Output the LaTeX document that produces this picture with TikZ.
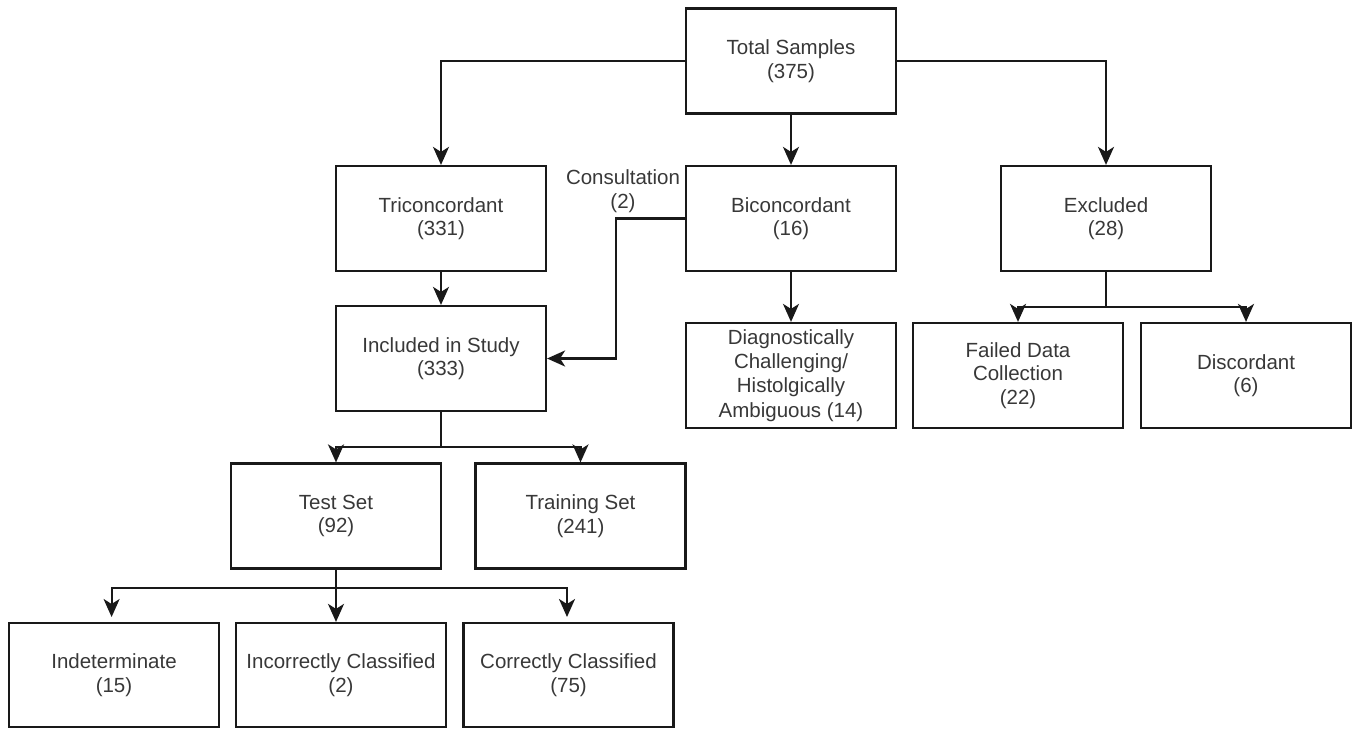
\documentclass[tikz,border=0pt]{standalone}
\usepackage{fontspec}
\setmainfont{Liberation Sans}
\usetikzlibrary{arrows.meta}
\begin{document}
\begin{tikzpicture}[x=1pt,y=-1pt,
  txt/.style={align=center, inner sep=0pt, text=black!78, font=\fontsize{20.5}{23.5}\selectfont},
  box/.style={txt, draw=black!90, line width=2.2pt, minimum width=210pt, minimum height=105pt},
  conn/.style={draw=black!90, line width=2.2pt, -{Stealth[length=18pt,width=16pt,inset=5pt]}},
  plainline/.style={draw=black!90, line width=2.2pt}]
\useasboundingbox (0,0) rectangle (1359,728);
\node[box] (total) at (791,61) {Total Samples\\(375)};
\node[box] (tri) at (441,218.5) {Triconcordant\\(331)};
\node[box] (bic) at (791,218.5) {Biconcordant\\(16)};
\node[box] (exc) at (1106,218.5) {Excluded\\(28)};
\node[box] (inc) at (441,358.5) {Included in Study\\(333)};
\node[box, font=\fontsize{20.5}{24.3}\selectfont] (diag) at (791,375.5) {Diagnostically\\Challenging/\\Histolgically\\Ambiguous (14)};
\node[box] (failed) at (1018,375.5) {Failed Data\\Collection\\(22)};
\node[box] (disc) at (1246,375.5) {Discordant\\(6)};
\node[box] (test) at (336,516) {Test Set\\(92)};
\node[box] (train) at (580.5,516) {Training Set\\(241)};
\node[box, minimum height=104pt] (indet) at (114,675) {Indeterminate\\(15)};
\node[box, minimum height=104pt] (incor) at (341,675) {Incorrectly Classified\\(2)};
\node[box, minimum height=104pt] (corr) at (568.5,675) {Correctly Classified\\(75)};
\node[txt] (consult) at (623,191) {Consultation\\(2)};

% top level
\draw[conn] (total.west) -| (tri.north);
\draw[conn] (total.south) -- (bic.north);
\draw[conn] (total.east) -| (exc.north);
% second level
\draw[conn] (tri.south) -- (inc.north);
\draw[conn] (bic.south) -- (diag.north);
\coordinate (c1) at (616,218.5);
\coordinate (c2) at (616,358.5);
\draw[conn] (bic.west) -- (c1) -- (c2) -- (inc.east);
\coordinate (excj) at (1106,307);
\draw[plainline] (exc.south) -- (excj);
\draw[conn] (excj) -| (failed.north);
\draw[conn] (excj) -| (disc.north);
% included split
\coordinate (incj) at (441,447);
\draw[plainline] (inc.south) -- (incj);
\draw[conn] (incj) -| (test.north);
\draw[conn] (incj) -| (train.north);
% test split
\coordinate (testj) at (336,588);
\draw[plainline] (test.south) -- (testj);
\draw[conn, shorten >=6pt] (testj) -| (111.6,623);
\draw[conn] (testj) -- (testj |- incor.north);
\draw[conn, shorten >=6pt] (testj) -| (567,623);
\end{tikzpicture}
\end{document}
